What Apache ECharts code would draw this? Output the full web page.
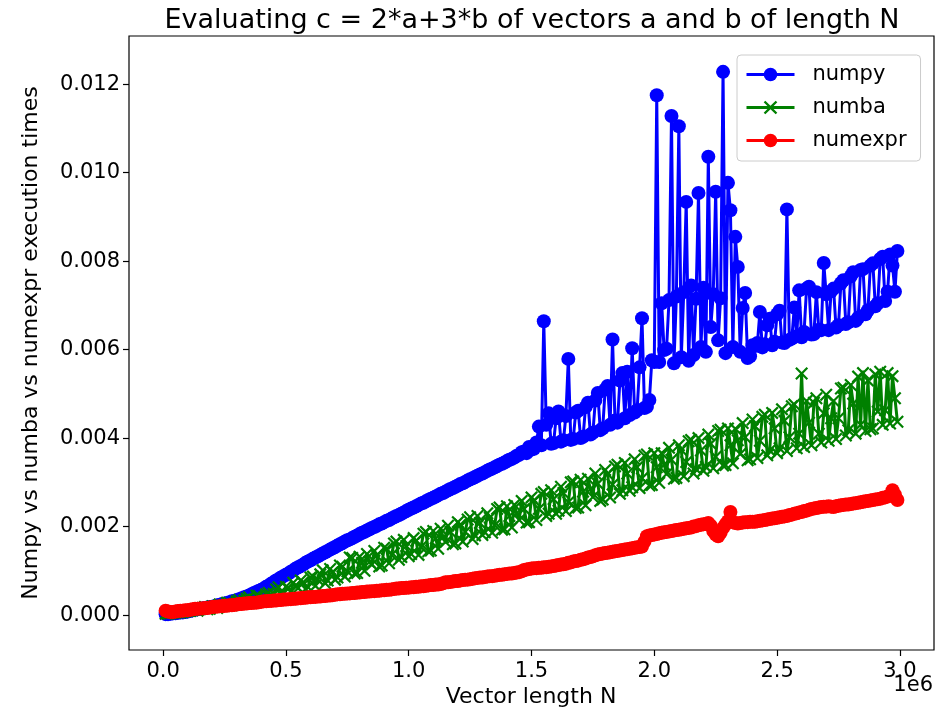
<!DOCTYPE html>
<html><head><meta charset="utf-8">
<script src="https://cdn.jsdelivr.net/npm/echarts@6/dist/echarts.min.js"></script>
<style>html,body{margin:0;padding:0;background:#fff}#c{width:936px;height:716px}</style>
</head><body><div id="c"></div>
<script>
// Vector lengths N (10,000 ... 2,990,000)
const N = [
10000,20000,30000,40000,50000,60000,70000,80000,90000,100000,
110000,120000,130000,140000,150000,160000,170000,180000,190000,200000,
210000,220000,230000,240000,250000,260000,270000,280000,290000,300000,
310000,320000,330000,340000,350000,360000,370000,380000,390000,400000,
410000,420000,430000,440000,450000,460000,470000,480000,490000,500000,
510000,520000,530000,540000,550000,560000,570000,580000,590000,600000,
610000,620000,630000,640000,650000,660000,670000,680000,690000,700000,
710000,720000,730000,740000,750000,760000,770000,780000,790000,800000,
810000,820000,830000,840000,850000,860000,870000,880000,890000,900000,
910000,920000,930000,940000,950000,960000,970000,980000,990000,1000000,
1010000,1020000,1030000,1040000,1050000,1060000,1070000,1080000,1090000,1100000,
1110000,1120000,1130000,1140000,1150000,1160000,1170000,1180000,1190000,1200000,
1210000,1220000,1230000,1240000,1250000,1260000,1270000,1280000,1290000,1300000,
1310000,1320000,1330000,1340000,1350000,1360000,1370000,1380000,1390000,1400000,
1410000,1420000,1430000,1440000,1450000,1460000,1470000,1480000,1490000,1500000,
1510000,1520000,1530000,1540000,1550000,1560000,1570000,1580000,1590000,1600000,
1610000,1620000,1630000,1640000,1650000,1660000,1670000,1680000,1690000,1700000,
1710000,1720000,1730000,1740000,1750000,1760000,1770000,1780000,1790000,1800000,
1810000,1820000,1830000,1840000,1850000,1860000,1870000,1880000,1890000,1900000,
1910000,1920000,1930000,1940000,1950000,1960000,1970000,1980000,1990000,2000000,
2010000,2020000,2030000,2040000,2050000,2060000,2070000,2080000,2090000,2100000,
2110000,2120000,2130000,2140000,2150000,2160000,2170000,2180000,2190000,2200000,
2210000,2220000,2230000,2240000,2250000,2260000,2270000,2280000,2290000,2300000,
2310000,2320000,2330000,2340000,2350000,2360000,2370000,2380000,2390000,2400000,
2410000,2420000,2430000,2440000,2450000,2460000,2470000,2480000,2490000,2500000,
2510000,2520000,2530000,2540000,2550000,2560000,2570000,2580000,2590000,2600000,
2610000,2620000,2630000,2640000,2650000,2660000,2670000,2680000,2690000,2700000,
2710000,2720000,2730000,2740000,2750000,2760000,2770000,2780000,2790000,2800000,
2810000,2820000,2830000,2840000,2850000,2860000,2870000,2880000,2890000,2900000,
2910000,2920000,2930000,2940000,2950000,2960000,2970000,2980000,2990000];

// execution times in milliseconds
const numpyMs = [
0.02,0.02,0.03,0.04,0.04,0.05,0.06,0.06,0.07,0.08,
0.09,0.11,0.12,0.13,0.14,0.15,0.16,0.17,0.18,0.19,
0.20,0.22,0.23,0.25,0.26,0.27,0.29,0.31,0.32,0.34,
0.36,0.38,0.40,0.42,0.44,0.47,0.50,0.52,0.55,0.57,
0.60,0.64,0.67,0.71,0.74,0.78,0.81,0.85,0.88,0.91,
0.94,0.98,1.01,1.05,1.08,1.11,1.14,1.18,1.21,1.24,
1.27,1.30,1.33,1.36,1.39,1.42,1.45,1.48,1.51,1.54,
1.57,1.60,1.63,1.66,1.69,1.71,1.74,1.77,1.80,1.83,
1.86,1.88,1.91,1.94,1.97,1.99,2.02,2.05,2.07,2.10,
2.13,2.15,2.18,2.21,2.24,2.26,2.29,2.32,2.35,2.38,
2.41,2.43,2.46,2.49,2.52,2.54,2.57,2.60,2.63,2.65,
2.68,2.71,2.74,2.76,2.79,2.82,2.85,2.87,2.90,2.93,
2.96,2.98,3.01,3.04,3.07,3.09,3.12,3.15,3.18,3.20,
3.23,3.26,3.29,3.31,3.34,3.37,3.40,3.42,3.45,3.48,
3.51,3.53,3.56,3.60,3.62,3.68,3.70,3.66,3.80,3.74,
3.76,3.90,4.26,3.84,6.64,4.30,4.56,3.87,3.89,4.45,
4.60,3.92,3.95,4.50,5.79,3.96,3.98,4.58,4.62,4.00,
4.03,4.70,4.80,4.08,4.12,4.85,5.02,4.18,4.22,5.10,
5.18,4.30,6.23,4.40,4.35,5.30,5.47,4.45,5.50,4.52,
6.03,4.58,4.63,5.60,6.71,4.68,4.71,4.86,5.76,5.72,
11.75,5.72,7.05,5.99,6.02,7.12,11.28,5.69,7.20,11.05,
5.83,7.30,9.34,5.75,7.45,5.88,7.15,9.54,6.06,7.40,
5.95,10.36,6.51,7.25,9.57,6.21,7.16,12.28,5.92,9.77,
9.15,6.06,8.55,7.87,5.95,6.94,7.28,5.81,5.85,6.10,
6.08,6.15,6.85,6.05,6.12,6.55,6.70,6.10,6.18,6.80,
6.88,6.16,6.15,9.17,6.22,6.25,6.95,6.30,7.34,6.28,
6.40,7.38,7.42,6.34,6.35,7.30,6.45,6.44,7.96,7.25,
6.44,7.32,7.38,6.50,6.55,7.50,7.57,6.58,6.62,7.66,
7.75,6.65,6.72,7.80,7.82,6.80,6.89,7.90,7.95,6.98,
7.05,8.05,8.10,7.10,7.31,8.15,7.90,7.31,8.23];

const numbaMs = [
0.03,0.03,0.04,0.05,0.05,0.06,0.06,0.07,0.08,0.09,
0.09,0.11,0.13,0.10,0.13,0.16,0.18,0.13,0.14,0.20,
0.19,0.16,0.24,0.21,0.22,0.28,0.27,0.22,0.25,0.31,
0.34,0.27,0.33,0.37,0.40,0.31,0.35,0.44,0.43,0.37,
0.39,0.47,0.50,0.41,0.48,0.58,0.63,0.47,0.49,0.64,
0.61,0.52,0.73,0.66,0.61,0.78,0.74,0.59,0.63,0.85,
0.87,0.66,0.80,0.92,1.01,0.72,0.78,1.04,0.97,0.80,
0.85,1.12,1.09,0.87,0.99,1.30,1.29,0.94,0.95,1.32,
1.18,1.00,1.38,1.20,1.14,1.45,1.34,1.10,1.12,1.52,
1.50,1.17,1.36,1.62,1.66,1.25,1.31,1.70,1.56,1.33,
1.38,1.74,1.68,1.36,1.54,1.84,1.88,1.44,1.46,1.90,
1.73,1.50,1.95,1.76,1.65,2.02,1.88,1.60,1.62,2.10,
2.04,1.66,1.88,2.16,2.21,1.72,1.80,2.24,2.08,1.81,
1.87,2.30,2.20,1.86,2.03,2.40,2.43,1.93,1.94,2.46,
2.24,1.98,2.49,2.30,2.15,2.58,2.40,2.09,2.10,2.66,
2.59,2.15,2.40,2.74,2.78,2.24,2.29,2.82,2.62,2.29,
2.36,2.90,2.76,2.35,2.55,3.00,3.02,2.42,2.43,3.06,
2.79,2.48,3.08,2.85,2.67,3.20,2.97,2.58,2.61,3.28,
3.19,2.66,2.95,3.36,3.40,2.74,2.82,3.44,3.20,2.81,
2.89,3.52,3.34,2.87,3.09,3.60,3.63,2.93,2.94,3.66,
3.34,2.99,3.66,3.40,3.19,3.78,3.51,3.08,3.10,3.84,
3.73,3.14,3.46,3.93,3.96,3.20,3.30,4.00,3.72,3.26,
3.35,4.08,3.87,3.32,3.58,4.16,4.19,3.38,3.39,4.22,
3.84,3.43,4.21,3.95,3.64,4.34,4.02,3.50,3.52,4.42,
4.27,3.55,3.94,4.48,4.53,3.61,3.72,4.57,4.22,3.66,
3.77,4.65,4.39,3.71,4.02,4.72,4.76,3.77,4.10,5.46,
3.80,4.84,4.35,3.84,4.80,4.90,4.10,3.90,4.56,4.98,
3.94,4.45,4.84,3.98,4.45,5.12,5.14,4.06,4.18,5.20,
4.78,4.10,5.39,4.30,5.47,4.16,5.30,4.20,4.22,5.44,
4.60,5.50,4.30,4.63,5.47,4.33,5.40,4.90,4.37];

const numexprMs = [
0.10,0.08,0.07,0.07,0.08,0.09,0.10,0.10,0.11,0.11,
0.12,0.13,0.14,0.14,0.15,0.15,0.16,0.16,0.17,0.18,
0.19,0.19,0.20,0.20,0.21,0.21,0.22,0.22,0.23,0.24,
0.25,0.25,0.26,0.26,0.27,0.27,0.28,0.28,0.29,0.30,
0.31,0.31,0.32,0.32,0.33,0.33,0.34,0.34,0.35,0.35,
0.36,0.36,0.37,0.37,0.38,0.38,0.39,0.39,0.40,0.40,
0.41,0.41,0.42,0.42,0.43,0.43,0.44,0.44,0.45,0.46,
0.47,0.47,0.48,0.48,0.49,0.49,0.50,0.50,0.51,0.51,
0.52,0.52,0.53,0.53,0.54,0.54,0.55,0.55,0.56,0.56,
0.57,0.57,0.58,0.59,0.60,0.60,0.61,0.61,0.62,0.62,
0.63,0.63,0.64,0.64,0.65,0.65,0.66,0.67,0.68,0.68,
0.69,0.69,0.70,0.72,0.74,0.74,0.75,0.76,0.77,0.77,
0.78,0.79,0.80,0.80,0.81,0.82,0.83,0.84,0.85,0.85,
0.86,0.87,0.88,0.88,0.89,0.90,0.91,0.91,0.92,0.93,
0.94,0.94,0.95,0.96,0.97,0.99,1.02,1.03,1.04,1.05,
1.06,1.06,1.07,1.07,1.08,1.08,1.09,1.10,1.11,1.12,
1.13,1.14,1.15,1.16,1.18,1.19,1.21,1.22,1.23,1.25,
1.26,1.28,1.30,1.31,1.33,1.35,1.37,1.38,1.39,1.40,
1.41,1.42,1.43,1.44,1.45,1.46,1.47,1.48,1.49,1.50,
1.51,1.52,1.53,1.54,1.55,1.66,1.78,1.80,1.81,1.82,
1.83,1.85,1.86,1.87,1.88,1.89,1.90,1.91,1.92,1.93,
1.94,1.95,1.96,1.97,1.98,2.00,2.01,2.03,2.04,2.05,
2.06,2.08,2.02,1.90,1.82,1.78,1.86,1.97,2.05,2.12,
2.33,2.10,2.08,2.07,2.08,2.09,2.10,2.10,2.11,2.11,
2.11,2.12,2.13,2.14,2.15,2.16,2.17,2.18,2.19,2.20,
2.21,2.22,2.23,2.24,2.26,2.27,2.29,2.30,2.32,2.33,
2.35,2.36,2.38,2.40,2.41,2.42,2.43,2.44,2.45,2.45,
2.46,2.45,2.44,2.46,2.47,2.48,2.49,2.50,2.50,2.51,
2.52,2.53,2.54,2.55,2.56,2.57,2.58,2.59,2.60,2.61,
2.62,2.63,2.65,2.66,2.68,2.70,2.82,2.72,2.60];

const seriesNames = ['numpy', 'numba', 'numexpr'];
const xTickValues = [0, 500000, 1000000, 1500000, 2000000, 2500000, 3000000];
const yTickValues = [0, 0.002, 0.004, 0.006, 0.008, 0.010, 0.012];

const FONT = 'DejaVu Sans';
const toPairs = ms => N.map((n, i) => [n, ms[i] / 1000]);
const xMark = 'path://M0,1.2L1.2,0L5,3.8L8.8,0L10,1.2L6.2,5L10,8.8L8.8,10L5,6.2L1.2,10L0,8.8L3.8,5Z';

const chart = echarts.init(document.getElementById('c'), null, {renderer: 'canvas'});
chart.setOption({
  animation: false,
  backgroundColor: '#ffffff',
  textStyle: {fontFamily: FONT},
  grid: {left: 129, top: 36, width: 805, height: 614, show: true, borderColor: '#000', borderWidth: 1.2, backgroundColor: 'transparent', containLabel: false},
  xAxis: {
    type: 'value', min: -139000, max: 3139000,
    axisLine: {show: false, onZero: false},
    splitLine: {show: false},
    axisTick: {show: true, inside: false, length: 6, lineStyle: {color: '#000', width: 1.2}, customValues: xTickValues},
    axisLabel: {customValues: xTickValues, margin: 11, color: '#000', fontSize: 21, fontFamily: FONT,
      formatter: v => (v / 1e6).toFixed(1)}
  },
  yAxis: {
    type: 'value', min: -0.00079, max: 0.01309,
    axisLine: {show: false, onZero: false},
    splitLine: {show: false},
    axisTick: {show: true, inside: false, length: 6, lineStyle: {color: '#000', width: 1.2}, customValues: yTickValues},
    axisLabel: {customValues: yTickValues, margin: 9, color: '#000', fontSize: 21, fontFamily: FONT,
      formatter: v => v.toFixed(3)}
  },
  legend: {
    orient: 'vertical', left: 737, top: 55,
    data: seriesNames,
    padding: [9, 14, 10, 8], itemGap: 12, itemWidth: 48, itemHeight: 17,
    backgroundColor: 'rgba(255,255,255,0.85)', borderColor: '#cccccc', borderWidth: 1, borderRadius: 4,
    lineStyle: {width: 3},
    textStyle: {fontSize: 21, fontFamily: FONT, color: '#000', lineHeight: 21, padding: [0, 0, 0, 13]}
  },
  graphic: [
    {type: 'text', x: 532, y: 21, style: {text: 'Evaluating c = 2*a+3*b of vectors a and b of length N', font: '27px "DejaVu Sans"', fill: '#000', textAlign: 'center', textVerticalAlign: 'middle'}},
    {type: 'text', x: 531, y: 697, style: {text: 'Vector length N', font: '22px "DejaVu Sans"', fill: '#000', textAlign: 'center', textVerticalAlign: 'middle'}},
    {type: 'text', x: 933, y: 686, style: {text: '1e6', font: '21px "DejaVu Sans"', fill: '#000', textAlign: 'right', textVerticalAlign: 'middle'}},
    {type: 'text', x: 31, y: 343, rotation: Math.PI / 2, style: {text: 'Numpy vs numba vs numexpr execution times', font: '22px "DejaVu Sans"', fill: '#000', textAlign: 'center', textVerticalAlign: 'middle'}}
  ],
  series: [
    {name: 'numpy', type: 'line', data: toPairs(numpyMs), symbol: 'circle', symbolSize: 14,
      itemStyle: {color: '#0000ff'}, lineStyle: {color: '#0000ff', width: 3, join: 'round'}},
    {name: 'numba', type: 'line', data: toPairs(numbaMs), symbol: xMark, symbolSize: 13,
      itemStyle: {color: '#008000'}, lineStyle: {color: '#008000', width: 3, join: 'round'}},
    {name: 'numexpr', type: 'line', data: toPairs(numexprMs), symbol: 'circle', symbolSize: 14,
      itemStyle: {color: '#ff0000'}, lineStyle: {color: '#ff0000', width: 3, join: 'round'}}
  ]
});
</script>
</body></html>
